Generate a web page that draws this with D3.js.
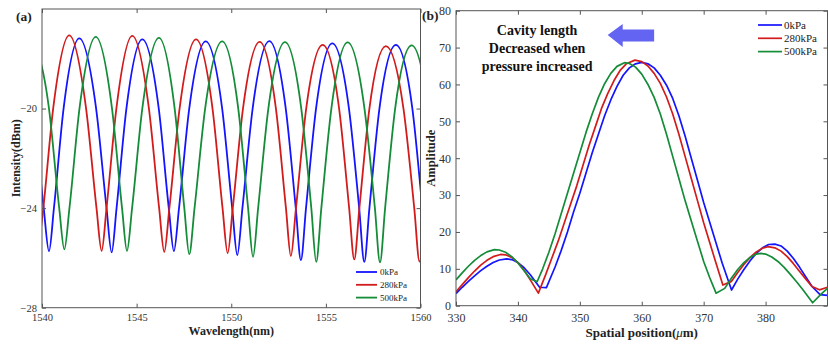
<!DOCTYPE html>
<html>
<head>
<meta charset="utf-8">
<script src="https://cdn.jsdelivr.net/npm/d3@7"></script>
<style>
  body { margin: 0; background: #fff; }
  svg { display: block; }
</style>
</head>
<body>
<svg id="chart" width="828" height="348"></svg>
<script>
// ---- panel (a): transmission spectra, [wavelength nm, intensity dBm]
const spec0kPa = [
  [1538.64,-17.15],[1539.54,-20],[1540.09,-24],[1540.37,-25.73],[1540.63,-24],[1541.14,-20],[1541.97,-17.18],
  [1542.86,-20],[1543.41,-24],[1543.68,-25.78],[1543.94,-24],[1544.46,-20],[1545.30,-17.22],
  [1546.17,-20],[1546.70,-24],[1546.97,-25.73],[1547.24,-24],[1547.78,-20],[1548.65,-17.30],
  [1549.52,-20],[1550.05,-24],[1550.32,-25.89],[1550.59,-24],[1551.13,-20],[1552.01,-17.29],
  [1552.88,-20],[1553.41,-24],[1553.68,-26.09],[1553.95,-24],[1554.48,-20],[1555.34,-17.38],
  [1556.22,-20],[1556.76,-24],[1557.03,-26.16],[1557.30,-24],[1557.83,-20],[1558.70,-17.44],
  [1559.57,-20],[1560.10,-24],[1560.37,-26.10]
];
const spec280kPa = [
  [1539.81,-25.70],[1540.07,-24],[1540.59,-20],[1541.44,-17.06],
  [1542.33,-20],[1542.88,-24],[1543.15,-25.72],[1543.41,-24],[1543.93,-20],[1544.77,-17.08],
  [1545.65,-20],[1546.19,-24],[1546.46,-25.76],[1546.73,-24],[1547.27,-20],[1548.14,-17.22],
  [1549.01,-20],[1549.54,-24],[1549.81,-25.81],[1550.08,-24],[1550.62,-20],[1551.50,-17.32],
  [1552.36,-20],[1552.89,-24],[1553.15,-25.93],[1553.42,-24],[1553.96,-20],[1554.83,-17.44],
  [1555.70,-20],[1556.23,-24],[1556.50,-26.06],[1556.77,-24],[1557.30,-20],[1558.17,-17.49],
  [1559.10,-20],[1559.67,-24],[1559.95,-26.15],[1560.23,-24]
];
const spec500kPa = [
  [1539.50,-17.10],[1540.37,-20],[1540.91,-24],[1541.18,-25.66],[1541.45,-24],[1541.98,-20],[1542.84,-17.12],
  [1543.70,-20],[1544.23,-24],[1544.49,-25.72],[1544.76,-24],[1545.30,-20],[1546.18,-17.16],
  [1547.01,-20],[1547.52,-24],[1547.78,-25.85],[1548.06,-24],[1548.62,-20],[1549.52,-17.30],
  [1550.37,-20],[1550.89,-24],[1551.15,-25.96],[1551.42,-24],[1551.96,-20],[1552.84,-17.33],
  [1553.70,-20],[1554.23,-24],[1554.49,-26.16],[1554.76,-24],[1555.29,-20],[1556.15,-17.34],
  [1557.04,-20],[1557.59,-24],[1557.86,-26.18],[1558.13,-24],[1558.66,-20],[1559.53,-17.46],
  [1560.40,-20],[1560.93,-24]
];
const wlTicks = [1540, 1545, 1550, 1555, 1560];
const dbTicks = [-28, -24, -20];

// ---- panel (b): spatial spectrum, [position um, amplitude]
const fft0kPa = [
  [330,3.3],[331,5],[332,6.6],[333,8.1],[334,9.5],[335,10.7],[336,11.7],[337,12.4],[338.2,12.7],
  [339,12.5],[340,11.7],[341,10.3],[342,8.4],[343.5,5.0],[344.6,4.9],
  [346,10.5],[347,15],[348,20],[349,25.5],[350,30.5],[351,36],[352,41.5],[353,46.5],[354,51.5],
  [355,55.8],[356,59.5],[357,62.5],[358,64.5],[359,65.6],[360,66],
  [361,65.6],[362,64.5],[363,62.5],[364,59.8],[365,56.2],[366,51.5],[367,46],[368,40],[369,34],
  [370,28],[371,22.5],[372,17],[373,11.5],[374.5,4.25],
  [375.5,7.2],[376.5,9.8],[377.5,12.2],[378.5,14.2],[379.5,15.7],[380.5,16.6],[381.5,16.7],[382.5,16.2],
  [383.5,14.8],[384.5,12.8],[385.5,10.4],[386.5,7.8],[387.5,5.2],[388.8,3.0],[390,2.8]
];
const fft280kPa = [
  [330,3.8],[331,5.7],[332,7.6],[333,9.4],[334,11],[335,12.3],[336,13.3],[337.2,13.9],[338,13.8],
  [339,13.1],[340,11.7],[341,9.6],[342,7],[343.3,3.4],
  [344.5,8.5],[345.5,13],[346.5,17.5],[347.5,22.5],[348.5,27.5],[349.5,32.5],[350.5,38],[351.5,43.5],
  [352.5,48.5],[353.5,53.5],[354.5,57.5],[355.5,61],[356.5,63.8],[357.5,65.6],[358.9,66.6],
  [360,66.2],[361,65],[362,63],[363,60.3],[364,56.6],[365,52],[366,46.5],[367,40.5],[368,34.5],
  [369,28.5],[370,22.5],[371,17],[372,11.5],[373.1,5.6],[374.5,6.6],
  [375.5,9],[376.5,11.2],[377.5,13.1],[378.5,14.6],[379.5,15.6],[380.4,16],[381.5,15.7],[382.5,14.8],
  [383.5,13.3],[384.5,11.4],[385.5,9.3],[386.5,7.2],[387.5,5.2],[388.7,4.3],[390,5.0]
];
const fft500kPa = [
  [330,7.0],[331,8.9],[332,10.7],[333,12.3],[334,13.6],[335,14.6],[336.2,15.2],[337,15.1],[338,14.5],
  [339,13.3],[340,11.6],[341,9.5],[342,7.3],[343.1,6.5],
  [344,10],[345,14.5],[346,19.5],[347,25],[348,30.5],[349,36],[350,41.5],[351,47],[352,52],
  [353,56.5],[354,60.2],[355,63],[356,64.9],[357.2,65.9],
  [358,65.7],[359,64.7],[360,62.8],[361,60],[362,56.5],[363,52],[364,46.5],[365,40.5],[366,34.5],
  [367,28.5],[368,23],[369,17.5],[370,12],[371,7.5],[372,3.4],
  [373.4,4.7],[374.5,7.5],[375.5,9.8],[376.5,11.7],[377.5,13.1],[378.5,14],[379.2,14.2],[380,14],
  [381,13.2],[382,12],[383,10.4],[384,8.5],[385,6.5],[386,4.4],[387.6,0.8],[389,3.2],[390,4.7]
];
const posTicks = [330, 340, 350, 360, 370, 380];
const ampTicks = [0, 10, 20, 30, 40, 50, 60, 70, 80];

const seriesNames = ["0kPa", "280kPa", "500kPa"];
const seriesColors = ["#1414ff", "#d21c1c", "#148c38"];

const FONT = "'Liberation Serif', 'Times New Roman', serif";
const svg = d3.select("#chart");

function drawPanel(cfg) {
  const { id, box, xDomain, yDomain, xTicks, yTicks, series, curve, lw, tickFont, xPad } = cfg;
  const x = d3.scaleLinear().domain(xDomain).range([box.left, box.right]);
  const y = d3.scaleLinear().domain(yDomain).range([box.bottom, box.top]);
  const g = svg.append("g");

  svg.append("clipPath").attr("id", "clip-" + id)
    .append("rect")
    .attr("x", box.left).attr("y", box.top)
    .attr("width", box.right - box.left).attr("height", box.bottom - box.top);

  const line = d3.line().x(d => x(d[0])).y(d => y(d[1])).curve(curve);
  g.append("g").attr("clip-path", `url(#clip-${id})`)
    .selectAll("path")
    .data(series)
    .join("path")
    .attr("d", d => line(d))
    .attr("fill", "none")
    .attr("stroke", (d, i) => seriesColors[i])
    .attr("stroke-width", lw)
    .attr("stroke-linejoin", "round");

  // axes, ticks pointing inward on all four sides
  const styleAxis = sel => {
    sel.select(".domain").remove();
    sel.selectAll("line").attr("stroke", "#555");
    sel.selectAll("text").attr("font-family", FONT).attr("font-size", tickFont).attr("fill", "#333");
  };
  g.append("g").attr("transform", `translate(0,${box.bottom})`)
    .call(d3.axisBottom(x).tickValues(xTicks).tickFormat(d3.format("d"))
      .tickSizeInner(-4).tickSizeOuter(0).tickPadding(xPad))
    .call(styleAxis);
  g.append("g").attr("transform", `translate(0,${box.top})`)
    .call(d3.axisTop(x).tickValues(xTicks).tickSizeInner(-4).tickSizeOuter(0).tickFormat(""))
    .call(styleAxis);
  g.append("g").attr("transform", `translate(${box.left},0)`)
    .call(d3.axisLeft(y).tickValues(yTicks).tickFormat(d3.format("d"))
      .tickSizeInner(-4).tickSizeOuter(0).tickPadding(5))
    .call(styleAxis);
  g.append("g").attr("transform", `translate(${box.right},0)`)
    .call(d3.axisRight(y).tickValues(yTicks).tickSizeInner(-4).tickSizeOuter(0).tickFormat(""))
    .call(styleAxis);

  g.append("rect")
    .attr("x", box.left).attr("y", box.top)
    .attr("width", box.right - box.left).attr("height", box.bottom - box.top)
    .attr("fill", "none").attr("stroke", "#555").attr("stroke-width", 1);

  return { g, x, y };
}

// ---------- (a)
const boxA = { left: 42, right: 420.5, top: 9, bottom: 307.7 };
const pa = drawPanel({
  id: "a", box: boxA, xDomain: [1540, 1560], yDomain: [-28, -16],
  xTicks: wlTicks, yTicks: dbTicks,
  series: [spec0kPa, spec280kPa, spec500kPa],
  curve: d3.curveMonotoneX, lw: 1.8, tickFont: "10.5px", xPad: 6
});

pa.g.append("text")
  .attr("x", (boxA.left + boxA.right) / 2).attr("y", 335)
  .attr("text-anchor", "middle")
  .attr("font-family", FONT).attr("font-weight", "bold").attr("font-size", "12px").attr("fill", "#222")
  .text("Wavelength(nm)");
pa.g.append("text")
  .attr("transform", `translate(20,${(boxA.top + boxA.bottom) / 2}) rotate(-90)`)
  .attr("text-anchor", "middle")
  .attr("font-family", FONT).attr("font-weight", "bold").attr("font-size", "12px").attr("fill", "#222")
  .text("Intensity(dBm)");
pa.g.append("text")
  .attr("x", 16).attr("y", 21)
  .attr("font-family", FONT).attr("font-weight", "bold").attr("font-size", "13.5px").attr("fill", "#222")
  .text("(a)");

const legA = pa.g.append("g").attr("transform", "translate(356,272)");
seriesNames.forEach((name, i) => {
  legA.append("line").attr("x1", 0).attr("x2", 21).attr("y1", i * 12.8).attr("y2", i * 12.8)
    .attr("stroke", seriesColors[i]).attr("stroke-width", 1.8);
  legA.append("text").attr("x", 24).attr("y", i * 12.8 + 3.2)
    .attr("font-family", FONT).attr("font-size", "9px").attr("fill", "#222").text(name);
});

// ---------- (b)
const boxB = { left: 456, right: 827.5, top: 10.7, bottom: 305.7 };
const pb = drawPanel({
  id: "b", box: boxB, xDomain: [330, 390], yDomain: [0, 80],
  xTicks: posTicks, yTicks: ampTicks,
  series: [fft0kPa, fft280kPa, fft500kPa],
  curve: d3.curveLinear, lw: 1.7, tickFont: "12px", xPad: 7.5
});

const xl = pb.g.append("text")
  .attr("x", (boxB.left + boxB.right) / 2).attr("y", 337)
  .attr("text-anchor", "middle")
  .attr("font-family", FONT).attr("font-weight", "bold").attr("font-size", "13px").attr("fill", "#222");
xl.append("tspan").text("Spatial position(");
xl.append("tspan").attr("font-style", "italic").attr("font-weight", "normal").text("\u03bc");
xl.append("tspan").text("m)");

pb.g.append("text")
  .attr("transform", `translate(435,${(boxB.top + boxB.bottom) / 2}) rotate(-90)`)
  .attr("text-anchor", "middle")
  .attr("font-family", FONT).attr("font-weight", "bold").attr("font-size", "12.5px").attr("fill", "#222")
  .text("Amplitude");
pb.g.append("text")
  .attr("x", 422).attr("y", 20)
  .attr("font-family", FONT).attr("font-weight", "bold").attr("font-size", "13.5px").attr("fill", "#222")
  .text("(b)");

const legB = pb.g.append("g").attr("transform", "translate(758,25)");
seriesNames.forEach((name, i) => {
  legB.append("line").attr("x1", 0).attr("x2", 24).attr("y1", i * 13.3).attr("y2", i * 13.3)
    .attr("stroke", seriesColors[i]).attr("stroke-width", 1.7);
  legB.append("text").attr("x", 26).attr("y", i * 13.3 + 3.8)
    .attr("font-family", FONT).attr("font-size", "11px").attr("fill", "#222").text(name);
});

// annotation
const note = ["Cavity length", "Decreased when", "pressure increased"];
pb.g.append("g").selectAll("text").data(note).join("text")
  .attr("x", pb.x(343.1)).attr("y", (d, i) => 35 + i * 18)
  .attr("text-anchor", "middle")
  .attr("font-family", FONT).attr("font-weight", "bold").attr("font-size", "14px").attr("fill", "#111")
  .text(d => d);

// arrow pointing to shorter cavity length
const ax0 = pb.x(354.5), ax1 = pb.x(362), ay = pb.y(73.4);
const arrow = d3.path();
arrow.moveTo(ax0, ay);
arrow.lineTo(ax0 + 15, ay - 11);
arrow.lineTo(ax0 + 15, ay - 5.5);
arrow.lineTo(ax1, ay - 5.5);
arrow.lineTo(ax1, ay + 6.5);
arrow.lineTo(ax0 + 15, ay + 6.5);
arrow.lineTo(ax0 + 15, ay + 12);
arrow.closePath();
pb.g.append("path").attr("d", arrow.toString()).attr("fill", "#6464f2");
</script>
</body>
</html>
